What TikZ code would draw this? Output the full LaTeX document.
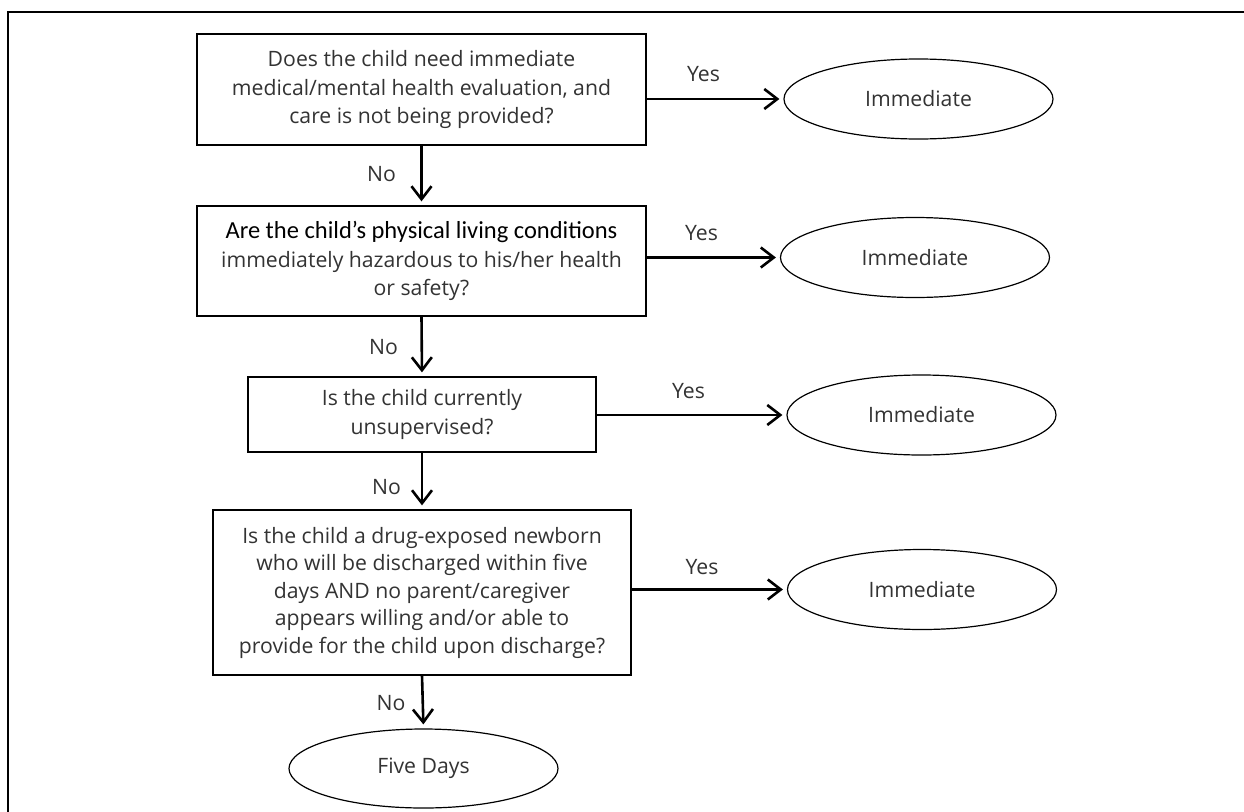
\documentclass[tikz,border=0pt]{standalone}
\usepackage{fontspec}
\setmainfont{Open Sans}
\newfontfamily\headfont{Carlito}
\usetikzlibrary{arrows.meta,shapes.geometric}
\definecolor{ink}{HTML}{333333}
\begin{document}
\begin{tikzpicture}[x=1pt,y=-1pt,
  every node/.style={font=\fontsize{21.2}{28.5}\selectfont, text=ink},
  question/.style={draw=black, line width=1.3pt, inner sep=0pt, align=center},
  outcome/.style={draw=black, ellipse, line width=1.2pt, inner sep=0pt,
    minimum width=269pt, minimum height=80pt},
  flow/.style={line width=2.6pt, -{Straight Barb[length=13pt,width=20pt,line width=2.6pt]},
    shorten >=4pt},
  tag/.style={inner sep=0pt}
]
\clip (0,0) rectangle (1244,811);
\fill[white] (0,0) rectangle (1244,811);
% page frame
\draw[line width=1.8pt] (8,830) -- (8,12) -- (1260,12);

% questions
\node[question, minimum width=449pt, minimum height=111pt] (q1) at (421.5,89.5)
  {Does the child need immediate\\medical/mental health evaluation, and\\care is not being provided?};
\node[question, minimum width=449pt, minimum height=110pt] (q2) at (421.5,261)
  {{\headfont\color{black}\fontsize{24.5}{29}\selectfont Are the child’s physical living conditions}\\immediately hazardous to his/her health\\or safety?};
\node[question, minimum width=348pt, minimum height=75pt] (q3) at (422,414.5)
  {Is the child currently\\unsupervised?};
\node[question, minimum width=418pt, minimum height=165pt, font=\fontsize{21.2}{27.5}\selectfont] (q4) at (422,592.5)
  {Is the child a drug-exposed newborn\\who will be discharged within five\\days AND no parent/caregiver\\appears willing and/or able to\\provide for the child upon discharge?};

% outcomes
\node[outcome] (r1) at (918.5,99) {Immediate};
\node[outcome] (r2) at (915,257.5) {Immediate};
\node[outcome] (r3) at (921.5,415) {Immediate};
\node[outcome] (r4) at (922,589.5) {Immediate};
\node[outcome, minimum height=79pt] (r5) at (423.5,768.5) {Five Days};

% yes branches
\draw[flow] (q1.east |- r1.west) -- (r1.west);
\draw[flow] (q2.east |- r2.west) -- (r2.west);
\draw[flow] (q3.east |- r3.west) -- (r3.west);
\draw[flow] (q4.east |- r4.west) -- (r4.west);
\node[tag] (y1) at (703.5,74.5) {Yes};
\node[tag] (y2) at (701.5,233.5) {Yes};
\node[tag] (y3) at (688.5,391.5) {Yes};
\node[tag] (y4) at (702,567) {Yes};

% no branches
\draw[flow] (q1.south) -- (q2.north);
\draw[flow] (q2.south) -- (q3.north);
\draw[flow] (q3.south) -- (q4.north);
\draw[flow] (q4.south) -- (r5.north);
\node[tag] (n1) at (381.5,174) {No};
\node[tag] (n2) at (383.5,347.5) {No};
\node[tag] (n3) at (386.5,487.5) {No};
\node[tag] (n4) at (391,703.5) {No};
\end{tikzpicture}
\end{document}
